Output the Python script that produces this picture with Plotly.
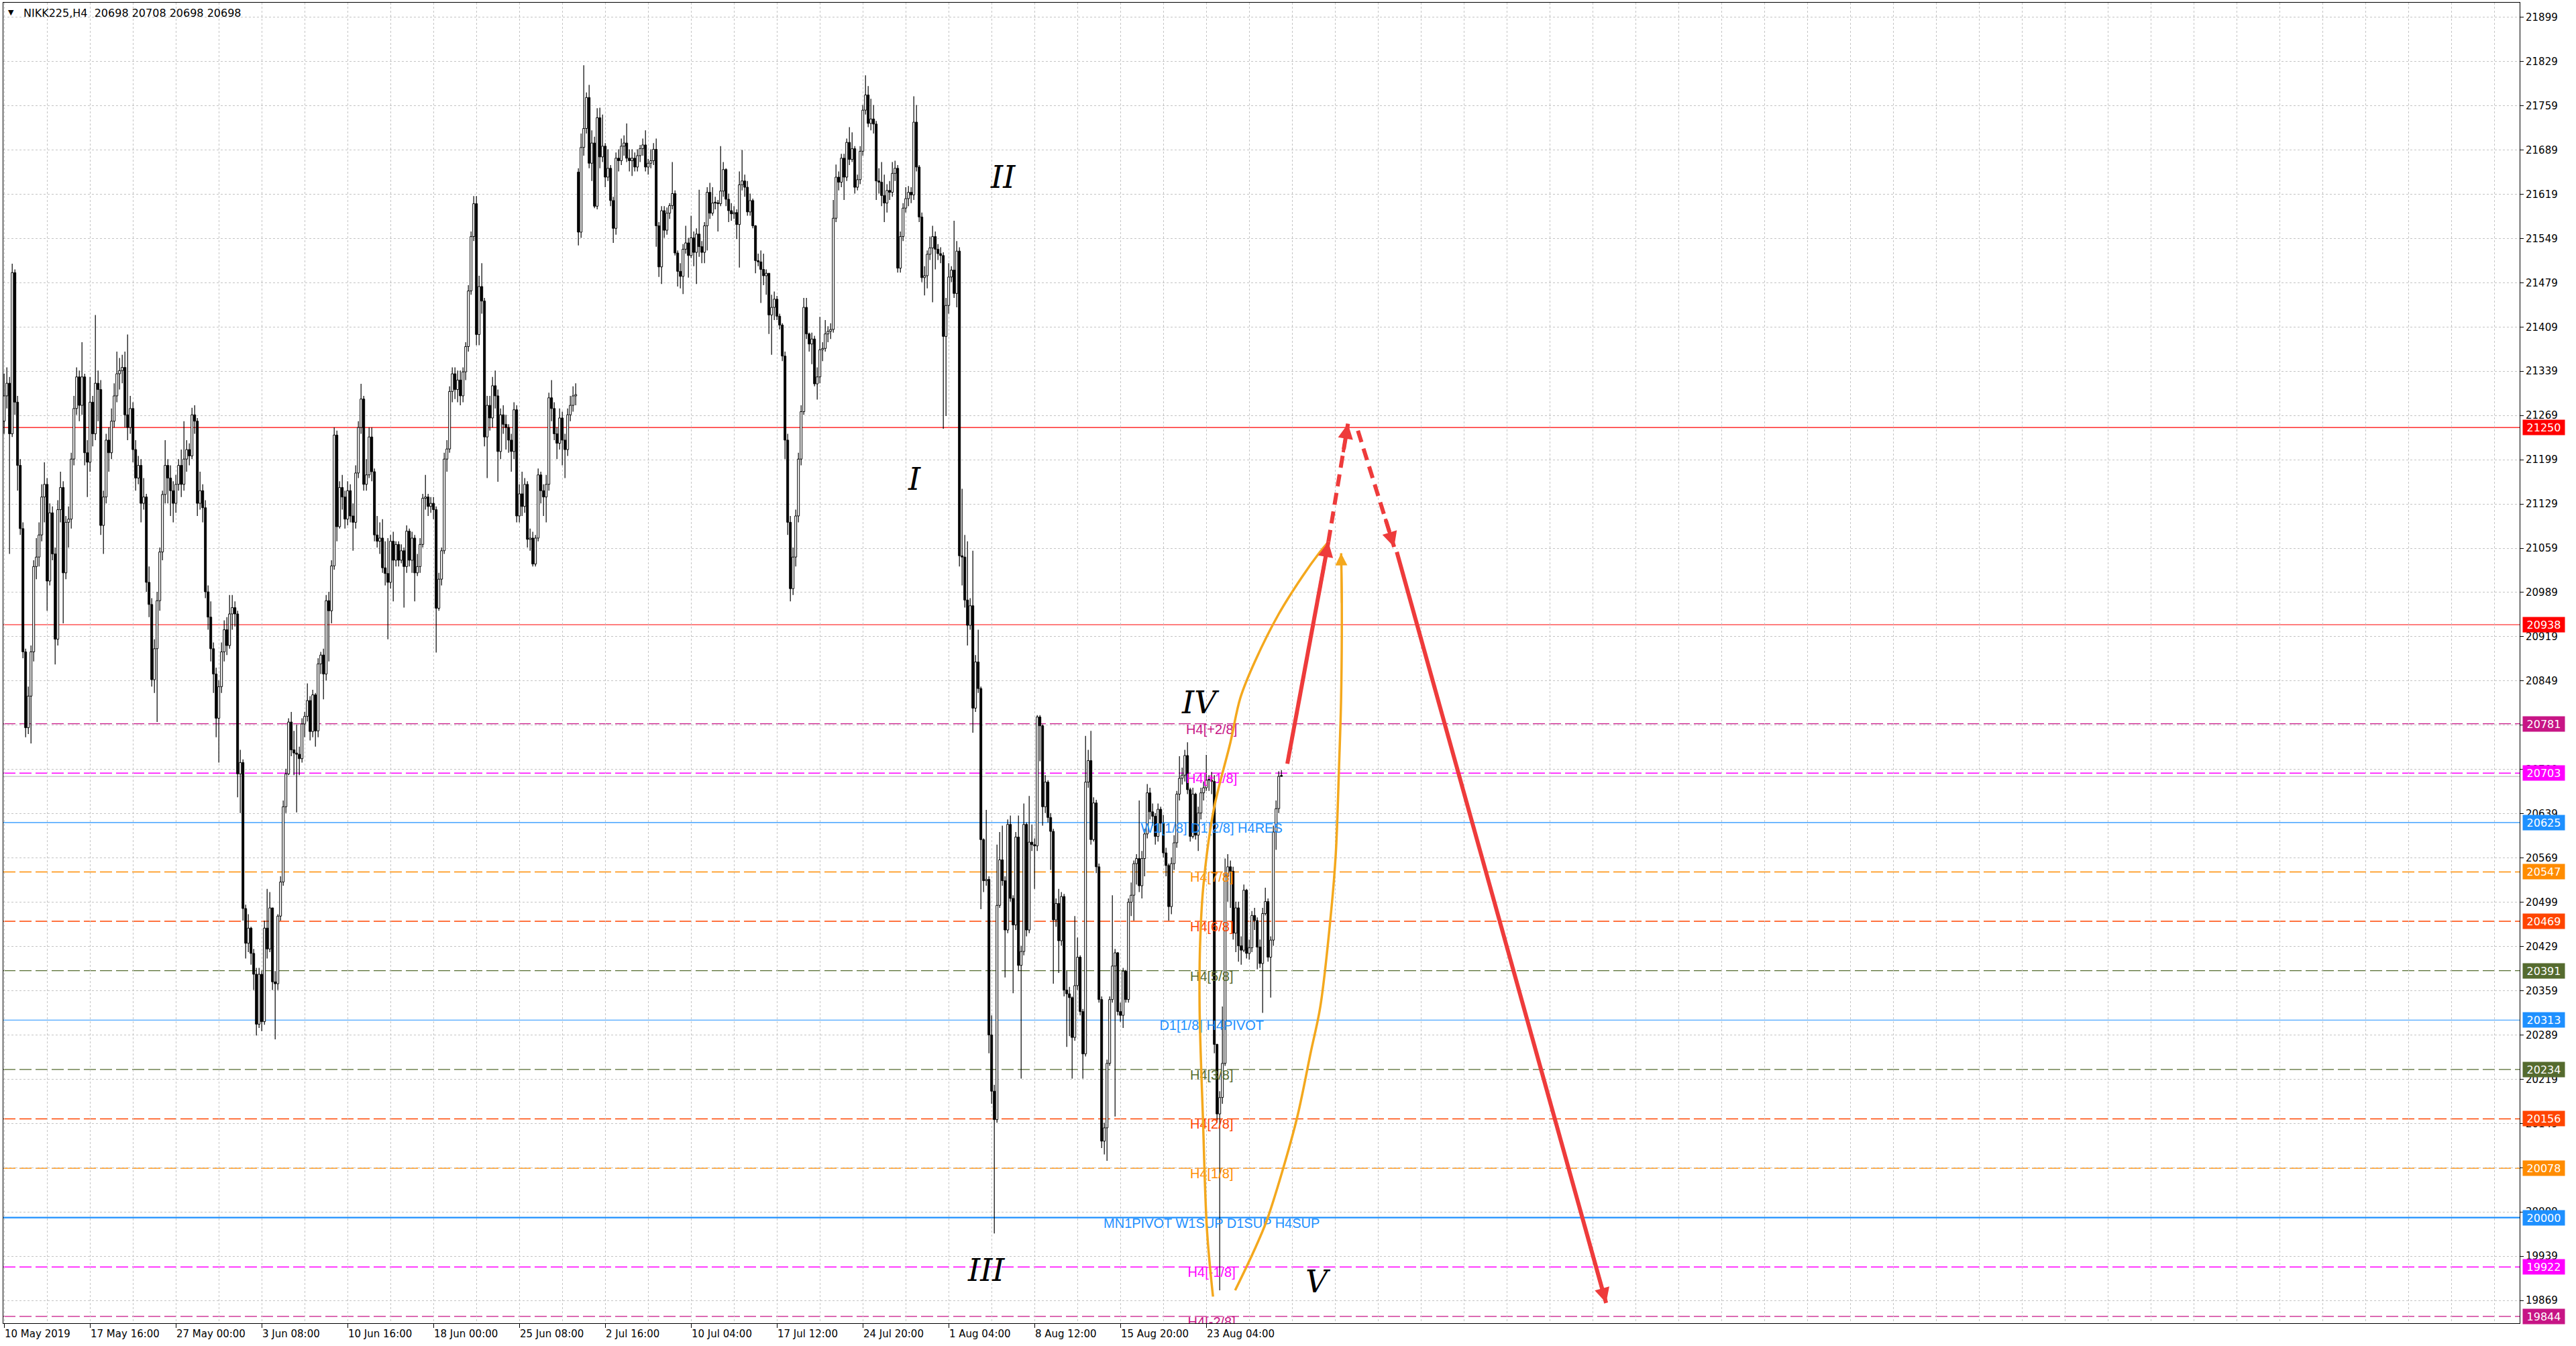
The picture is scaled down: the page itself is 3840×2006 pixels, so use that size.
import plotly.graph_objects as go

# ---------------- data (H4 bars, NIKK225) ----------------
FIRST_OPEN = 21260
GAP_OPENS = {214: 21654}

CLOSE = [
21300,21320,21240,21495,21290,21190,21090,20895,20775,20825,
20895,21030,21045,21080,21140,21160,21007,21115,21050,20915,
21120,21155,21020,21100,21105,21200,21280,21330,21285,21330,
21210,21195,21290,21240,21320,21310,21095,21140,21230,21210,
21260,21300,21335,21340,21345,21270,21250,21280,21215,21170,
21190,21130,21140,21005,20970,20851,20900,20976,21053,21144,
21190,21170,21150,21130,21160,21190,21160,21200,21215,21205,
21270,21260,21130,21150,21123,20990,20950,20900,20860,20790,
20840,20895,20930,20905,20955,20965,20955,20702,20720,20489,
20434,20458,20418,20385,20306,20385,20310,20458,20425,20490,
20373,20370,20477,20531,20650,20702,20784,20740,20735,20733,
20726,20781,20793,20818,20769,20827,20770,20876,20890,20860,
20976,20960,21031,21238,21093,21155,21140,21105,21150,21110,
21100,21178,21250,21295,21160,21175,21235,21180,21080,21070,
21075,21028,21019,21005,21070,21040,21065,21040,21055,21030,
21086,21040,21075,21020,21030,21065,21138,21140,21125,21130,
21120,20964,21010,21055,21200,21216,21307,21335,21310,21325,
21300,21338,21378,21466,21552,21604,21397,21473,21450,21235,
21285,21265,21316,21300,21212,21270,21255,21250,21230,21212,
21278,21110,21145,21125,21160,21073,21075,21034,21075,21175,
21150,21140,21160,21297,21280,21240,21225,21265,21230,21215,
21270,21285,21300,21302,21559,21693,21723,21772,21668,21700,
21600,21740,21678,21695,21646,21660,21609,21565,21676,21672,
21695,21700,21676,21672,21676,21662,21680,21691,21697,21662,
21668,21672,21690,21569,21504,21593,21562,21589,21601,21620,
21526,21497,21489,21532,21542,21522,21550,21527,21556,21536,
21527,21569,21622,21589,21605,21605,21604,21624,21658,21611,
21593,21588,21590,21571,21634,21640,21630,21591,21609,21569,
21514,21512,21500,21490,21494,21428,21440,21453,21426,21412,
21363,21230,21100,20995,21045,21110,21200,21275,21440,21398,
21382,21390,21319,21330,21373,21375,21398,21402,21405,21581,
21646,21638,21676,21646,21701,21674,21691,21630,21642,21687,
21752,21776,21731,21738,21730,21640,21638,21617,21605,21625,
21622,21652,21660,21502,21552,21597,21612,21622,21618,21733,
21662,21583,21487,21490,21524,21534,21552,21532,21525,21522,
21394,21443,21488,21499,21462,21529,21047,21045,20977,20937,
20968,20806,20879,20837,20598,20533,20535,20289,20200,20155,
20494,20566,20533,20455,20622,20505,20463,20602,20399,20421,
20622,20455,20594,20590,20588,20792,20778,20650,20689,20633,
20611,20471,20497,20438,20508,20360,20354,20348,20285,20367,
20412,20326,20259,20689,20723,20598,20656,20555,20345,20121,
20142,20244,20345,20398,20419,20326,20320,20390,20345,20499,
20510,20560,20568,20525,20568,20607,20672,20642,20635,20603,
20646,20624,20577,20557,20492,20560,20593,20670,20695,20700,
20731,20677,20603,20670,20605,20640,20672,20680,20692,20692,
20690,20274,20164,20190,20244,20540,20555,20548,20450,20490,
20430,20423,20518,20418,20427,20478,20470,20428,20402,20481,
20500,20412,20439,20610,20647,20698,20698]

HIGH = [
21335,21345,21330,21509,21500,21300,21200,21100,20900,20840,
20905,21040,21075,21100,21160,21195,21170,21130,21125,21060,
21135,21180,21165,21110,21125,21210,21300,21345,21340,21385,
21335,21230,21330,21300,21428,21340,21325,21150,21240,21250,
21280,21320,21370,21360,21365,21370,21397,21300,21290,21230,
21205,21200,21170,21145,21030,20980,20915,20990,21060,21150,
21230,21200,21190,21165,21175,21200,21215,21260,21230,21225,
21281,21285,21265,21180,21160,21135,21000,20975,20910,20870,
20850,20910,20945,20950,20985,20985,20975,20960,20740,20725,
20495,20480,20460,20425,20395,20395,20390,20470,20520,20515,
20490,20390,20480,20540,20660,20710,20790,20800,20770,20780,
20745,20790,20800,20845,20825,20835,20830,20885,20895,20900,
20985,20990,21040,21250,21245,21165,21175,21150,21165,21160,
21130,21190,21260,21319,21300,21200,21250,21250,21185,21110,
21100,21105,21070,21075,21080,21085,21070,21070,21065,21060,
21095,21090,21085,21080,21050,21075,21145,21175,21145,21140,
21140,21125,21020,21060,21210,21230,21315,21345,21345,21340,
21340,21345,21385,21475,21560,21616,21616,21490,21510,21455,
21300,21300,21330,21340,21310,21280,21285,21270,21255,21240,
21290,21285,21160,21180,21170,21165,21090,21085,21080,21185,
21180,21160,21175,21305,21325,21290,21250,21280,21275,21240,
21280,21300,21315,21320,21660,21715,21823,21780,21792,21720,
21710,21755,21756,21745,21700,21690,21665,21615,21685,21690,
21707,21712,21731,21690,21690,21685,21690,21697,21707,21720,
21675,21690,21700,21707,21575,21600,21600,21598,21605,21670,
21625,21530,21510,21540,21569,21550,21585,21560,21565,21626,
21545,21575,21630,21637,21630,21615,21610,21695,21670,21660,
21620,21605,21600,21595,21655,21689,21650,21640,21620,21612,
21570,21525,21530,21525,21500,21470,21460,21465,21458,21430,
21415,21370,21240,21110,21060,21120,21210,21285,21455,21455,
21400,21400,21395,21345,21425,21385,21420,21410,21415,21610,
21666,21655,21683,21683,21707,21725,21717,21695,21650,21695,
21760,21807,21790,21770,21760,21735,21660,21670,21650,21635,
21640,21670,21672,21665,21560,21605,21630,21632,21630,21774,
21760,21665,21590,21505,21530,21552,21569,21560,21540,21535,
21527,21455,21510,21505,21577,21545,21535,21153,21080,21070,
20980,21055,20890,20930,20840,20600,20645,20540,20320,20210,
20590,20610,20620,20540,20630,20636,20510,20610,20636,20430,
20655,20625,20667,20622,20600,20795,20795,20780,20700,20692,
20640,20615,20505,20520,20515,20512,20390,20365,20350,20477,
20443,20415,20330,20762,20740,20770,20665,20661,20560,20350,
20150,20250,20350,20510,20425,20420,20340,20395,20392,20505,
20530,20565,20575,20660,20580,20615,20686,20680,20655,20640,
20655,20650,20637,20585,20560,20570,20605,20675,20730,20712,
20740,20752,20680,20680,20672,20650,20680,20690,20732,20700,
20705,20700,20275,20200,20334,20568,20575,20565,20555,20500,
20500,20445,20527,20520,20440,20485,20490,20475,20440,20490,
20522,20505,20445,20620,20660,20706,20708]

LOW = [
21240,21280,21050,21235,21270,21150,21080,20885,20760,20765,
20750,20880,21010,21030,21070,21100,20960,21000,21040,20875,
20905,21100,20940,21010,21060,21090,21190,21270,21260,21270,
21190,21140,21180,21220,21230,21260,21080,21050,21130,21180,
21200,21250,21290,21310,21320,21250,21230,21240,21195,21150,
21160,21100,21120,20990,20950,20840,20830,20784,20960,21040,
21130,21130,21110,21100,21115,21150,21140,21150,21180,21190,
21200,21240,21110,21120,21100,20980,20930,20880,20830,20760,
20720,20830,20880,20890,20900,20930,20935,20665,20640,20470,
20410,20420,20400,20360,20288,20300,20295,20305,20410,20420,
20360,20282,20360,20470,20525,20640,20700,20730,20700,20641,
20700,20720,20760,20785,20755,20760,20745,20760,20860,20820,
20850,20880,20940,21025,21070,21090,21120,21090,21095,21100,
21055,21090,21170,21240,21150,21150,21170,21165,21070,21060,
21050,21020,21000,20915,20995,20975,21030,21030,21035,20965,
21020,21030,21020,20975,21015,21020,21060,21120,21110,21115,
21105,20894,20960,21000,21050,21180,21210,21290,21295,21290,
21285,21290,21325,21370,21460,21545,21380,21380,21430,21220,
21170,21245,21250,21280,21164,21200,21240,21215,21210,21180,
21200,21100,21100,21110,21115,21060,21055,21030,21030,21070,
21130,21110,21100,21150,21260,21230,21200,21215,21190,21170,
21205,21260,21275,21285,21538,21550,21680,21715,21660,21640,
21597,21595,21660,21670,21630,21640,21600,21542,21555,21655,
21665,21680,21670,21655,21648,21655,21655,21670,21680,21655,
21650,21660,21665,21536,21488,21477,21550,21555,21580,21595,
21522,21473,21470,21461,21525,21487,21518,21505,21477,21520,
21510,21510,21530,21580,21585,21595,21560,21600,21615,21600,
21575,21577,21580,21548,21503,21625,21615,21585,21585,21565,
21494,21505,21447,21475,21460,21398,21365,21420,21420,21405,
21355,21200,21080,20975,20985,21030,21100,21190,21270,21390,
21370,21350,21315,21294,21320,21355,21370,21385,21390,21400,
21575,21625,21630,21610,21640,21665,21670,21620,21625,21635,
21680,21745,21725,21720,21715,21610,21620,21600,21575,21590,
21610,21615,21640,21495,21495,21545,21590,21600,21605,21610,
21655,21575,21480,21459,21470,21515,21448,21500,21515,21510,
21248,21268,21430,21480,21455,21440,21030,21000,20965,20905,
20930,20767,20800,20830,20488,20515,20525,20260,20180,19975,
20150,20490,20525,20380,20450,20500,20355,20455,20390,20220,
20415,20445,20450,20580,20520,20580,20722,20620,20640,20625,
20550,20370,20460,20387,20430,20350,20270,20287,20220,20280,
20360,20320,20220,20255,20680,20590,20595,20545,20340,20110,
20100,20090,20240,20340,20160,20320,20310,20300,20340,20340,
20477,20470,20527,20515,20505,20540,20600,20630,20620,20590,
20595,20610,20570,20540,20470,20480,20550,20585,20660,20685,
20690,20670,20595,20600,20598,20580,20630,20660,20675,20675,
20670,20260,20150,19885,20180,20240,20500,20490,20440,20420,
20405,20400,20420,20410,20408,20420,20455,20393,20395,20324,
20478,20405,20348,20430,20582,20640,20698]

TIME_LABELS = ["10 May 2019", "17 May 16:00", "27 May 00:00", "3 Jun 08:00",
               "10 Jun 16:00", "18 Jun 00:00", "25 Jun 08:00", "2 Jul 16:00",
               "10 Jul 04:00", "17 Jul 12:00", "24 Jul 20:00", "1 Aug 04:00",
               "8 Aug 12:00", "15 Aug 20:00", "23 Aug 04:00"]
TIME_LABEL_BARS = [0, 32, 64, 96, 128, 160, 192, 224, 256, 288, 320, 352, 384, 416, 448]

Y_TICKS = [21899, 21829, 21759, 21689, 21619, 21549, 21479, 21409, 21339, 21269,
           21199, 21129, 21059, 20989, 20919, 20849, 20779, 20709, 20639, 20569,
           20499, 20429, 20359, 20289, 20219, 20149, 20079, 20009, 19939, 19869]

LEVEL_PRICES = [21250, 20938, 20781.25, 20703.125, 20625, 20546.875, 20468.75,
                20390.625, 20312.5, 20234.375, 20156.25, 20078.125, 20000,
                19921.875, 19843.75]
LEVEL_TAGS = ["21250", "20938", "20781", "20703", "20625", "20547", "20469",
              "20391", "20313", "20234", "20156", "20078", "20000", "19922", "19844"]
LEVEL_COLORS = ["#FF0000", "#FF0000", "#C71585", "#FF00FF", "#1E90FF", "#FF8C00",
                "#FF4500", "#556B2F", "#1E90FF", "#556B2F", "#FF4500", "#FF8C00",
                "#1E90FF", "#FF00FF", "#C71585"]
LEVEL_DASHED = [False, False, True, True, False, True, True, True, False, True,
                True, True, False, True, True]
LEVEL_WIDTHS = [1.2, 1.2, 1.4, 1.4, 1.2, 1.4, 1.4, 1.4, 1.2, 1.4, 1.4, 1.4, 2.2, 1.4, 1.4]
LEVEL_TEXTS = ["", "", "H4[+2/8]", "H4[+1/8]", "W1[1/8] D1[2/8] H4RES", "H4[7/8]",
               "H4[6/8]", "H4[5/8]", "D1[1/8] H4PIVOT", "H4[3/8]", "H4[2/8]",
               "H4[1/8]", "MN1PIVOT W1SUP D1SUP H4SUP", "H4[-1/8]", "H4[-2/8]"]
LEVEL_TEXT_BAR = 450

BID = 20698
HEADER = "NIKK225,H4\u00a0\u00a020698 20708 20698 20698"

WAVE_TEXT = ["I", "II", "III", "IV", "V"]
WAVE_X = [339.3, 372.2, 366.0, 445.7, 489.8]
WAVE_Y = [21168, 21646, 19917, 20815, 19899]

ORANGE_L_X = [450.5, 448.25, 446.75, 445.5, 445.75, 447.0, 450.75, 457.0, 460.75, 466.25, 475.0, 483.75, 490.0, 493.5]
ORANGE_L_Y = [19875, 19981, 20157, 20334, 20441, 20529, 20645, 20752, 20823, 20881, 20955, 21014, 21051, 21069]
ORANGE_R_X = [458.75, 465.5, 470.5, 477.0, 482.0, 487.0, 490.5, 494.5, 496.25, 497.5, 498.25, 498.5, 498.25]
ORANGE_R_Y = [19885, 19945, 19995, 20083, 20161, 20263, 20334, 20483, 20575, 20717, 20823, 20971, 21051]

RED_X = [[478.2, 493.5], [493.5, 500.8], [504.5, 518.0], [519.0, 597.0]]
RED_Y = [[20718, 21069], [21069, 21256], [21245, 21061], [21053, 19865]]
RED_DASHED = [False, True, True, False]

# ---------------- build ----------------
n = min(len(CLOSE), len(HIGH), len(LOW))
opens = []
for i in range(n):
    if i in GAP_OPENS:
        opens.append(GAP_OPENS[i])
    elif i == 0:
        opens.append(FIRST_OPEN)
    else:
        opens.append(CLOSE[i - 1])

xs = list(range(n))
base, hgt, cols = [], [], []
wx, wy = [], []
for i in range(n):
    o, c = opens[i], CLOSE[i]
    top, bot = max(o, c), min(o, c)
    h, l = max(HIGH[i], top), min(LOW[i], bot)
    base.append(bot)
    hgt.append(max(top - bot, 1.5))
    cols.append("white" if c > o else "black")
    if h > top:
        wx += [i, i, None]; wy += [top, h, None]
    if l < bot:
        wx += [i, i, None]; wy += [l, bot, None]

fig = go.Figure()
fig.add_trace(go.Bar(x=xs, y=hgt, base=base, width=0.74,
                     marker=dict(color=cols, line=dict(color="black", width=1)),
                     hoverinfo="skip"))
fig.add_trace(go.Scatter(x=wx, y=wy, mode="lines", line=dict(color="black", width=1.2),
                         hoverinfo="skip"))

# level labels
tx, ty, tt, tc = [], [], [], []
for p, t, c in zip(LEVEL_PRICES, LEVEL_TEXTS, LEVEL_COLORS):
    if t:
        tx.append(LEVEL_TEXT_BAR); ty.append(p); tt.append(t); tc.append(c)
fig.add_trace(go.Scatter(x=tx, y=ty, mode="text", text=tt, textposition="bottom center",
                         textfont=dict(color=tc, size=20, family="Liberation Sans, Arial"),
                         cliponaxis=True, hoverinfo="skip"))

ORANGE = "#F4A81D"
fig.add_trace(go.Scatter(x=ORANGE_L_X, y=ORANGE_L_Y, mode="lines",
                         line=dict(color=ORANGE, width=3.5, shape="spline"), hoverinfo="skip"))
fig.add_trace(go.Scatter(x=ORANGE_R_X, y=ORANGE_R_Y, mode="lines",
                         line=dict(color=ORANGE, width=3.5, shape="spline"), hoverinfo="skip"))
RED = "#EE3B3B"
for sx, sy, d in zip(RED_X, RED_Y, RED_DASHED):
    fig.add_trace(go.Scatter(x=sx, y=sy, mode="lines",
                             line=dict(color=RED, width=6, dash="18px,10px" if d else "solid"),
                             hoverinfo="skip"))

shapes = []
for p, c, d, w in zip(LEVEL_PRICES, LEVEL_COLORS, LEVEL_DASHED, LEVEL_WIDTHS):
    shapes.append(dict(type="line", xref="paper", x0=0, x1=1, yref="y", y0=p, y1=p,
                       line=dict(color=c, width=w, dash="18px,6px" if d else "solid"),
                       layer="between"))
shapes.append(dict(type="line", xref="paper", x0=0, x1=1, yref="y", y0=BID, y1=BID,
                   line=dict(color="#B4B4B4", width=1), layer="between"))

ann = []
for p, tag, c in zip(LEVEL_PRICES, LEVEL_TAGS, LEVEL_COLORS):
    ann.append(dict(x=1, xref="paper", xanchor="left", xshift=4, y=p, yref="y",
                    yanchor="middle", text=tag, showarrow=False, bgcolor=c,
                    font=dict(color="white", size=16, family="DejaVu Sans"),
                    width=58, height=18, borderpad=2, align="center"))
for b, t in zip(TIME_LABEL_BARS, TIME_LABELS):
    ann.append(dict(x=b, xref="x", xanchor="left", xshift=-1, y=0, yref="paper",
                    yanchor="top", yshift=-5, text=t, showarrow=False,
                    font=dict(color="black", size=15, family="DejaVu Sans")))
for t, x, y in zip(WAVE_TEXT, WAVE_X, WAVE_Y):
    ann.append(dict(x=x, y=y, xref="x", yref="y", text=t, showarrow=False,
                    font=dict(color="black", size=46, family="DejaVu Serif", style="italic")))
# arrow heads
for sx, sy in zip(RED_X, RED_Y):
    tipx, tipy = sx[1], sy[1]
    bx = tipx - (sx[1] - sx[0]) * 0.25
    by = tipy - (sy[1] - sy[0]) * 0.25
    if abs(sx[1] - sx[0]) > 20:
        bx = tipx - (sx[1] - sx[0]) * 0.08
        by = tipy - (sy[1] - sy[0]) * 0.08
    ann.append(dict(x=tipx, y=tipy, ax=bx, ay=by, xref="x", yref="y", axref="x", ayref="y",
                    text="", showarrow=True, arrowhead=2, arrowsize=0.9, arrowwidth=5,
                    arrowcolor=RED, standoff=0))
ann.append(dict(x=ORANGE_R_X[-1], y=ORANGE_R_Y[-1], ax=ORANGE_R_X[-2], ay=ORANGE_R_Y[-2],
                xref="x", yref="y", axref="x", ayref="y", text="", showarrow=True,
                arrowhead=2, arrowsize=1.2, arrowwidth=3, arrowcolor=ORANGE, standoff=0))
ann.append(dict(x=0, xref="paper", xanchor="left", xshift=5, y=1, yref="paper",
                yanchor="top", yshift=-6, text="\u25bc", showarrow=False,
                font=dict(color="black", size=11, family="DejaVu Sans")))
ann.append(dict(x=0, xref="paper", xanchor="left", xshift=28, y=1, yref="paper",
                yanchor="top", yshift=-4, text=HEADER, showarrow=False,
                font=dict(color="black", size=16, family="DejaVu Sans")))

minor_vals = [v for v in range(16, 938, 16) if v not in TIME_LABEL_BARS]

fig.update_layout(
    width=3840, height=2006,
    margin=dict(l=5, r=84, t=4, b=34),
    paper_bgcolor="white", plot_bgcolor="white",
    showlegend=False, hovermode=False,
    shapes=shapes, annotations=ann,
    xaxis=dict(range=[-0.3, 937.45], tickmode="array", tickvals=TIME_LABEL_BARS,
               showticklabels=False, ticks="outside", ticklen=6, tickcolor="black",
               showgrid=True, gridcolor="#C4C4C4", griddash="3px,3px", gridwidth=1,
               minor=dict(tickvals=minor_vals, showgrid=True, gridcolor="#C4C4C4",
                          griddash="3px,3px", ticklen=0),
               showline=True, linecolor="black", linewidth=1, mirror=True,
               zeroline=False, fixedrange=True),
    yaxis=dict(range=[19833, 21922], side="right", tickmode="array", tickvals=Y_TICKS,
               ticktext=[str(v) for v in Y_TICKS], ticks="outside", ticklen=5,
               tickcolor="black", tickfont=dict(family="DejaVu Sans", size=15, color="black"),
               showgrid=True, gridcolor="#C4C4C4", griddash="3px,3px", gridwidth=1,
               showline=True, linecolor="black", linewidth=1, mirror=True,
               zeroline=False, fixedrange=True),
)

fig.write_html("out.html", config={"displayModeBar": False},
               post_script="document.body.style.margin='0';document.body.style.overflow='hidden';")
